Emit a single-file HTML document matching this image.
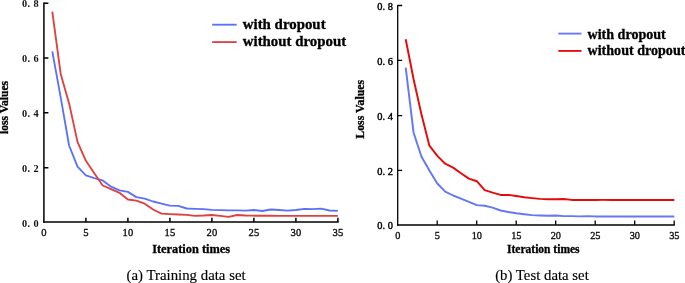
<!DOCTYPE html>
<html lang="en"><head><meta charset="utf-8"><title>Loss curves with and without dropout</title>
<style>
html,body{margin:0;padding:0;background:#fff}
svg{display:block}
text{white-space:pre;font-family:"Liberation Serif",serif;fill:#111}
.b{font-weight:bold;fill:#000;stroke:#000;stroke-width:.3px}
.c{fill:#000;stroke:#000;stroke-width:.15px}
.ls{font-family:"Liberation Serif",serif;font-weight:bold;font-size:10.3px}
.lx{font-family:"Liberation Serif",serif;font-size:10.6px;stroke:#111;stroke-width:.35px;letter-spacing:.35px}
.rs{font-family:"Liberation Serif",serif;font-size:10.3px;stroke:#111;stroke-width:.35px}
.ry{font-family:"Liberation Serif",serif;font-size:10.4px;stroke:#000;stroke-width:.42px;fill:#000}
</style></head><body>
<svg width="685" height="283" viewBox="0 0 685 283">
<rect width="685" height="283" fill="#fff"/>
<path d="M43.9 2.45V222.75" fill="none" stroke="#000" stroke-width="1.5"/>
<path d="M43.15 222.0H338.65" fill="none" stroke="#000" stroke-width="1.5"/>
<path d="M43.9 167.8h4.5M43.9 112.7h4.5M43.9 57.9h4.5M43.9 3.2h4.5M85.9 222.0v-4.2M127.9 222.0v-4.2M169.9 222.0v-4.2M211.9 222.0v-4.2M253.9 222.0v-4.2M295.9 222.0v-4.2M337.9 222.0v-4.2" fill="none" stroke="#000" stroke-width="1.5"/>
<polyline points="52.3,51.4 60.7,97.3 69.1,145.5 77.5,166.6 85.9,175.3 94.3,178.2 102.7,180.4 111.1,186.7 119.5,190.4 127.9,191.9 136.3,197.1 144.7,198.6 153.1,201.5 161.5,203.7 169.9,205.6 178.3,205.9 186.7,208.5 195.1,208.8 203.5,209.1 211.9,209.9 220.3,210.1 228.7,210.3 237.1,210.3 245.5,210.6 253.9,210.0 262.3,211.0 270.7,209.5 279.1,210.0 287.5,210.6 295.9,210.0 304.3,208.9 312.7,209.1 321.1,208.7 329.5,210.5 337.9,210.8" fill="none" stroke="#5a72fa" stroke-width="1.85" stroke-linejoin="round"/>
<polyline points="52.3,11.7 60.7,73.9 69.1,103.4 77.5,141.9 85.9,160.8 94.3,173.3 102.7,185.5 111.1,189.2 119.5,192.8 127.9,199.5 136.3,200.6 144.7,203.7 153.1,209.5 161.5,213.6 169.9,214.1 178.3,214.5 186.7,214.9 195.1,215.8 203.5,215.5 211.9,215.0 220.3,215.8 228.7,216.8 237.1,215.0 245.5,215.5 253.9,215.7 262.3,215.7 270.7,215.7 279.1,215.8 287.5,215.8 295.9,215.9 304.3,215.9 312.7,215.9 321.1,215.9 329.5,215.9 337.9,215.9" fill="none" stroke="#e04040" stroke-width="1.85" stroke-linejoin="round"/>
<text class="ls" y="226.6" x="22.1 27.6 30.6 33.6">0. 0</text>
<text class="ls" y="171.9" x="22.1 27.6 30.6 33.6">0. 2</text>
<text class="ls" y="117.2" x="22.1 27.6 30.6 33.6">0. 4</text>
<text class="ls" y="61.6" x="22.1 27.6 30.6 33.6">0. 6</text>
<text class="ls" y="7.0" x="22.1 27.6 30.6 33.6">0. 8</text>
<text class="lx" text-anchor="middle" x="44.1" y="236.2">0</text>
<text class="lx" text-anchor="middle" x="86.1" y="236.2">5</text>
<text class="lx" text-anchor="middle" x="128.1" y="236.2">10</text>
<text class="lx" text-anchor="middle" x="170.1" y="236.2">15</text>
<text class="lx" text-anchor="middle" x="212.1" y="236.2">20</text>
<text class="lx" text-anchor="middle" x="254.1" y="236.2">25</text>
<text class="lx" text-anchor="middle" x="296.1" y="236.2">30</text>
<text class="lx" text-anchor="middle" x="338.1" y="236.2">35</text>
<text class="b" font-size="12.2" text-anchor="middle" x="191.1" y="253.0" textLength="77.9" lengthAdjust="spacingAndGlyphs">Iteration times</text>
<text class="b" font-size="11.6" text-anchor="middle" transform="translate(8.2,107.5) rotate(-90)">loss Values</text>
<text class="c" font-size="14.75" text-anchor="middle" x="186.1" y="279.9" textLength="119.1" lengthAdjust="spacingAndGlyphs">(a) Training data set</text>
<path d="M212.2 24.7H236.7" stroke="#5a72fa" stroke-width="1.85"/><path d="M212.2 42.1H236.7" stroke="#e04040" stroke-width="1.85"/>
<text class="b" font-size="13.8" x="242.8" y="28.6" textLength="82.8" lengthAdjust="spacingAndGlyphs">with dropout</text>
<text class="b" font-size="13.8" x="242.8" y="46.0" textLength="103.3" lengthAdjust="spacingAndGlyphs">without dropout</text>
<path d="M397.7 4.8999999999999995V225.7" fill="none" stroke="#000" stroke-width="1.3"/>
<path d="M397.05 225.0H674.9000000000001" fill="none" stroke="#000" stroke-width="1.4"/>
<path d="M397.7 170.3h4.5M397.7 115.6h4.5M397.7 60.3h4.5M397.7 5.5h4.5M437.2 224.7v-4.2M476.7 224.7v-4.2M516.2 224.7v-4.2M555.7 224.7v-4.2M595.2 224.7v-4.2M634.7 224.7v-4.2M674.2 224.7v-4.2" fill="none" stroke="#000" stroke-width="1.3"/>
<polyline points="405.7,67.6 413.6,132.7 421.5,156.7 429.4,170.5 437.3,183.5 445.2,191.6 453.1,195.5 461.0,198.6 468.9,201.8 476.8,205.1 484.7,205.7 492.6,207.6 500.5,210.5 508.4,212.0 516.3,213.3 524.2,214.2 532.1,215.1 540.0,215.5 547.9,215.8 555.8,215.5 563.7,216.1 571.6,216.1 579.5,216.4 587.4,216.2 595.3,216.4 603.2,216.4 611.1,216.4 619.0,216.4 626.9,216.4 634.8,216.4 642.7,216.4 650.6,216.4 658.5,216.4 666.4,216.4 674.3,216.4" fill="none" stroke="#6478f5" stroke-width="1.95" stroke-linejoin="round"/>
<polyline points="405.7,39.2 413.6,79.3 421.5,114.6 429.4,145.7 437.3,155.9 445.2,163.7 453.1,167.6 461.0,173.2 468.9,178.6 476.8,181.2 484.7,190.1 492.6,192.6 500.5,194.9 508.4,194.9 516.3,196.0 524.2,197.2 532.1,198.1 540.0,198.9 547.9,199.2 555.8,199.2 563.7,199.0 571.6,199.9 579.5,199.9 587.4,199.9 595.3,200.0 603.2,199.9 611.1,199.9 619.0,199.9 626.9,199.9 634.8,199.9 642.7,199.9 650.6,199.9 658.5,199.9 666.4,199.9 674.3,199.9" fill="none" stroke="#e60a0a" stroke-width="1.95" stroke-linejoin="round"/>
<text class="ry" y="229.0" x="377.2 382.5 385.2 387.8">0. 0</text>
<text class="ry" y="174.6" x="377.2 382.5 385.2 387.8">0. 2</text>
<text class="ry" y="119.9" x="377.2 382.5 385.2 387.8">0. 4</text>
<text class="ry" y="64.6" x="377.2 382.5 385.2 387.8">0. 6</text>
<text class="ry" y="9.8" x="377.2 382.5 385.2 387.8">0. 8</text>
<text class="rs" text-anchor="middle" x="397.8" y="238.5">0</text>
<text class="rs" text-anchor="middle" x="437.3" y="238.5">5</text>
<text class="rs" text-anchor="middle" x="476.8" y="238.5">10</text>
<text class="rs" text-anchor="middle" x="516.3" y="238.5">15</text>
<text class="rs" text-anchor="middle" x="555.8" y="238.5">20</text>
<text class="rs" text-anchor="middle" x="595.3" y="238.5">25</text>
<text class="rs" text-anchor="middle" x="634.8" y="238.5">30</text>
<text class="rs" text-anchor="middle" x="674.3" y="238.5">35</text>
<text class="b" font-size="11.5" text-anchor="middle" x="543.3" y="252.9">Iteration times</text>
<text class="b" font-size="11.8" text-anchor="middle" transform="translate(364.1,109.3) rotate(-90)">Loss Values</text>
<text class="c" font-size="14.65" text-anchor="middle" x="542" y="279.9" textLength="93.6" lengthAdjust="spacingAndGlyphs">(b) Test data set</text>
<path d="M558.3 33.6H581.5" stroke="#6478f5" stroke-width="1.85"/><path d="M558.3 50.9H581.5" stroke="#e60a0a" stroke-width="1.85"/>
<text class="b" font-size="13.8" x="587.5" y="38.6" textLength="78.3" lengthAdjust="spacingAndGlyphs">with dropout</text>
<text class="b" font-size="13.8" x="587.5" y="55.0" textLength="97.9" lengthAdjust="spacingAndGlyphs">without dropout</text>
</svg></body></html>
